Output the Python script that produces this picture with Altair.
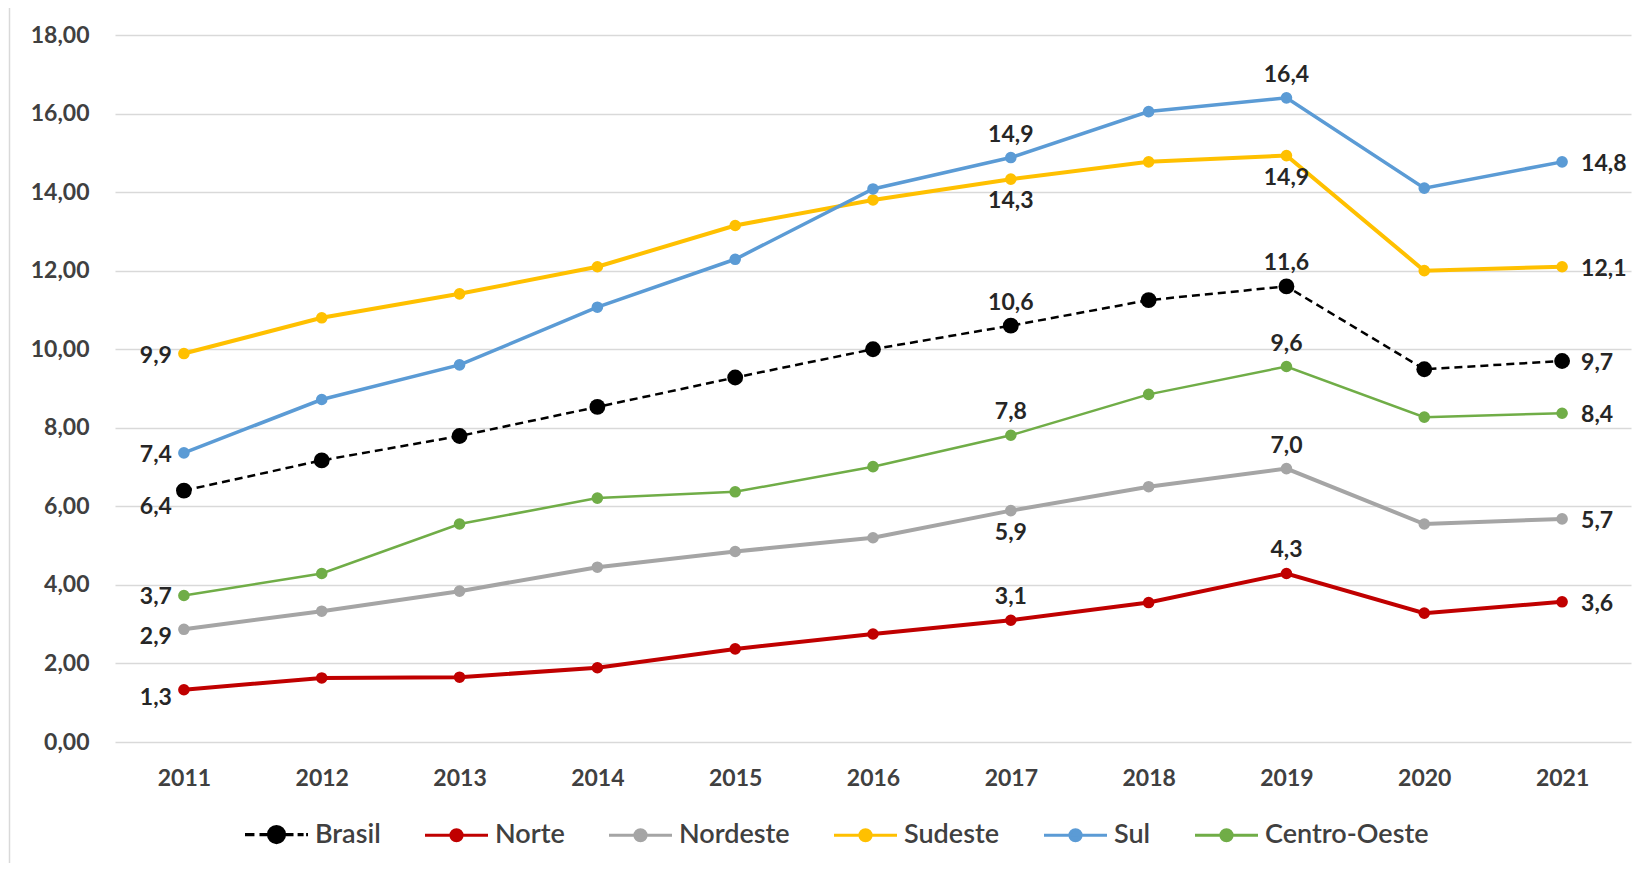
import altair as alt
import pandas as pd

# ---------------- data ----------------
years = ["2011", "2012", "2013", "2014", "2015", "2016", "2017", "2018", "2019", "2020", "2021"]
series_names = ["Brasil", "Norte", "Nordeste", "Sudeste", "Sul", "Centro-Oeste"]

brasil = [6.40, 7.17, 7.79, 8.53, 9.28, 10.00, 10.60, 11.25, 11.60, 9.49, 9.70]
norte = [1.33, 1.63, 1.65, 1.89, 2.37, 2.75, 3.10, 3.55, 4.29, 3.28, 3.57]
nordeste = [2.87, 3.33, 3.84, 4.45, 4.85, 5.20, 5.89, 6.50, 6.96, 5.55, 5.68]
sudeste = [9.89, 10.80, 11.41, 12.10, 13.15, 13.80, 14.33, 14.77, 14.93, 12.00, 12.10]
sul = [7.36, 8.72, 9.60, 11.07, 12.29, 14.08, 14.88, 16.05, 16.40, 14.10, 14.77]
centro_oeste = [3.73, 4.29, 5.55, 6.21, 6.37, 7.01, 7.81, 8.85, 9.56, 8.27, 8.37]

y_ticks = [0, 2, 4, 6, 8, 10, 12, 14, 16, 18]

# which points carry a value label, and where the label sits
label_series = ["Sudeste", "Sul", "Brasil", "Centro-Oeste", "Nordeste", "Norte",
                "Sul", "Sudeste", "Brasil", "Centro-Oeste", "Nordeste", "Norte",
                "Sul", "Sudeste", "Brasil", "Centro-Oeste", "Nordeste", "Norte",
                "Sul", "Sudeste", "Brasil", "Centro-Oeste", "Nordeste", "Norte"]
label_years = ["2011"] * 6 + ["2017"] * 6 + ["2019"] * 6 + ["2021"] * 6
label_places = ["left", "left", "left_lower", "left", "left_low", "left_low",
                "above", "below", "above", "above", "below", "above",
                "above", "below", "above", "above", "above", "above",
                "right", "right", "right", "right", "right", "right"]

# ---------------- styles ----------------
colors = ["#000000", "#C00000", "#A5A5A5", "#FFC000", "#5B9BD5", "#70AD47"]
line_widths = {"Brasil": 2.5, "Norte": 4, "Nordeste": 4, "Sudeste": 4, "Sul": 3.5, "Centro-Oeste": 2.5}
FONT = "Lato"
TEXT_COLOR = "#404040"
GRID = "#d9d9d9"

placements = {
    "left": dict(align="right", dx=-12, dy=2),
    "left_low": dict(align="right", dx=-12, dy=8),
    "left_lower": dict(align="right", dx=-12, dy=16),
    "above": dict(align="center", dx=0, dy=-23),
    "below": dict(align="center", dx=0, dy=22),
    "right": dict(align="left", dx=19, dy=2),
}

# legend symbols: line with a marker (dashed line and bigger marker for Brasil)
brasil_path = ("M-1,0H-0.7M-0.54,0H0.54M0.67,0H0.86M0.94,0H1"
               "M-0.254,0A0.254,0.254,0,1,1,0.254,0A0.254,0.254,0,1,1,-0.254,0Z")
region_path = ("M-1,0H1"
               "M-0.175,0A0.175,0.175,0,1,1,0.175,0A0.175,0.175,0,1,1,-0.175,0Z")
legend_shapes = [brasil_path] + [region_path] * 5

# ---------------- tables ----------------
values_by_series = {
    "Brasil": brasil, "Norte": norte, "Nordeste": nordeste,
    "Sudeste": sudeste, "Sul": sul, "Centro-Oeste": centro_oeste,
}
rows = []
for s in series_names:
    for y, v in zip(years, values_by_series[s]):
        rows.append({"series": s, "year": y, "value": v})
df = pd.DataFrame(rows)

lab_rows = []
for s, y, p in zip(label_series, label_years, label_places):
    v = values_by_series[s][years.index(y)]
    lab_rows.append({"series": s, "year": y, "value": v, "place": p})
lab_df = pd.DataFrame(lab_rows)

# ---------------- encodings ----------------
x_enc = alt.X(
    "year:O",
    scale=alt.Scale(type="point", padding=0.5),
    axis=alt.Axis(
        title=None, labelAngle=0, domain=False, ticks=False, grid=False,
        labelPadding=36, labelBaseline="middle", labelFont=FONT,
        labelFontSize=23, labelFontWeight="bold", labelColor=TEXT_COLOR,
    ),
)
y_enc = alt.Y(
    "value:Q",
    scale=alt.Scale(domain=[0, 18], nice=False, zero=True),
    axis=alt.Axis(
        title=None, values=y_ticks, domain=False, ticks=False, grid=True,
        gridColor=GRID, gridWidth=1.5,
        labelExpr="replace(format(datum.value, '.2f'), '.', ',')",
        labelPadding=26, labelFont=FONT, labelFontSize=23,
        labelFontWeight="bold", labelColor=TEXT_COLOR,
    ),
)

legend = alt.Legend(
    title=None, orient="none", direction="horizontal",
    legendX=128, legendY=766,
    labelFont=FONT, labelFontSize=27, labelFontWeight=600, labelColor=TEXT_COLOR,
    labelOffset=5, columnPadding=37, labelLimit=400,
    symbolSize=3969, symbolStrokeWidth=3.2,
)
color_enc = alt.Color(
    "series:N",
    scale=alt.Scale(domain=series_names, range=colors),
    legend=legend,
)

base = alt.Chart(df)

frame = alt.Chart(pd.DataFrame({"a": [0]})).mark_rect(
    fillOpacity=0, stroke=GRID, strokeWidth=1.5
).encode(x=alt.value(-105.5), x2=alt.value(2400), y=alt.value(-30), y2=alt.value(2400))

line_layers = []
for s in series_names:
    kw = dict(strokeWidth=line_widths[s])
    if s == "Brasil":
        kw["strokeDash"] = [8, 5]
    line_layers.append(
        base.transform_filter(alt.datum.series == s).mark_line(**kw)
        .encode(x=x_enc, y=y_enc, color=color_enc)
    )

region_points = base.transform_filter(alt.datum.series != "Brasil").mark_circle(
    size=135, opacity=1
).encode(x=x_enc, y=y_enc, color=color_enc)
brasil_points = base.transform_filter(alt.datum.series == "Brasil").mark_circle(
    size=250, opacity=1
).encode(x=x_enc, y=y_enc, color=color_enc)

# invisible points that only give the merged legend its line-with-marker symbols
legend_layer = base.mark_point(opacity=0).encode(
    x=x_enc, y=y_enc,
    fill=alt.Fill("series:N", scale=alt.Scale(domain=series_names, range=colors), legend=legend),
    stroke=alt.Stroke("series:N", scale=alt.Scale(domain=series_names, range=colors), legend=legend),
    shape=alt.Shape("series:N", scale=alt.Scale(domain=series_names, range=legend_shapes), legend=legend),
)

text_layers = []
for key, st in placements.items():
    text_layers.append(
        alt.Chart(lab_df)
        .transform_filter(alt.datum.place == key)
        .transform_calculate(label="replace(format(datum.value, '.1f'), '.', ',')")
        .mark_text(font=FONT, fontSize=23, fontWeight="bold", color="#262626",
                   baseline="middle", **st)
        .encode(x=x_enc, y=y_enc, text="label:N")
    )

chart = alt.layer(
    frame, *line_layers, region_points, brasil_points, legend_layer, *text_layers
).properties(
    width=1516, height=707,
    autosize=alt.AutoSizeParams(type="none"),
    padding={"left": 107, "top": 27, "right": 5, "bottom": 121},
    background="white",
).configure_view(stroke=None)

chart.save("out.html", embed_options={"renderer": "svg", "actions": False})
